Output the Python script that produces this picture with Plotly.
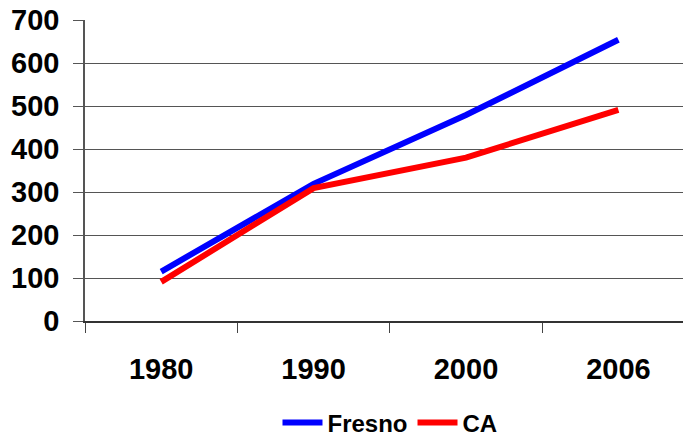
import plotly.graph_objects as go

# Population index by year
years = ["1980", "1990", "2000", "2006"]
fresno = [115, 319, 479, 654]
ca = [91, 309, 380, 491]
y_ticks = [0, 100, 200, 300, 400, 500, 600, 700]

font_family = "Arial, Liberation Sans, sans-serif"

fig = go.Figure()
fig.add_trace(go.Scatter(x=years, y=fresno, name="Fresno", mode="lines",
                         line=dict(color="#0000FF", width=6)))
fig.add_trace(go.Scatter(x=years, y=ca, name="CA", mode="lines",
                         line=dict(color="#FF0000", width=6)))

fig.update_layout(
    width=683, height=437,
    margin=dict(l=85, r=0, t=20, b=116, autoexpand=False),
    paper_bgcolor="white", plot_bgcolor="white",
    font=dict(family=font_family, color="black"),
    showlegend=True,
    legend=dict(orientation="h", x=0.571, xref="container", xanchor="center",
                y=0.032, yref="container", yanchor="middle",
                font=dict(size=24, weight="bold", family=font_family),
                itemwidth=40, tracegroupgap=0, bgcolor="rgba(0,0,0,0)"),
)

fig.update_xaxes(
    type="category", range=[-0.5, 3.424], tickson="boundaries",
    ticks="outside", ticklen=10, tickwidth=1, tickcolor="#444",
    showgrid=False, showline=True, linecolor="#333", linewidth=2,
    tickfont=dict(size=29, weight="bold", family=font_family),
    ticklabelstandoff=21, zeroline=False,
)
fig.update_yaxes(
    range=[0, 700], tickvals=y_ticks, ticktext=[str(v) for v in y_ticks],
    ticks="outside", ticklen=10, tickwidth=1, tickcolor="#555",
    showgrid=True, gridcolor="#555", gridwidth=1,
    showline=True, linecolor="#555", linewidth=1.5,
    tickfont=dict(size=29, weight="bold", family=font_family),
    ticklabelstandoff=8, zeroline=False,
)

fig.write_html("out.html")
